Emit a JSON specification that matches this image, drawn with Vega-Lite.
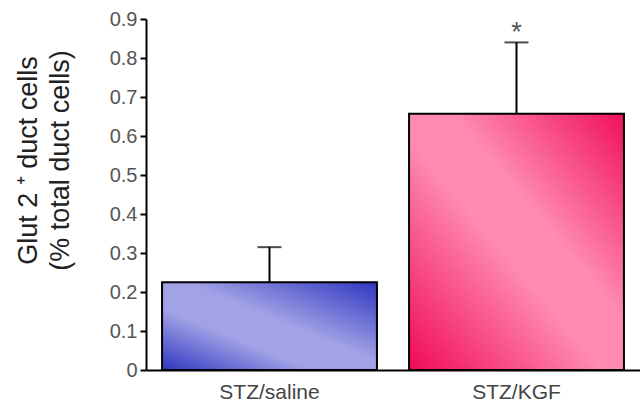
{
  "$schema": "https://vega.github.io/schema/vega-lite/v6.json",
  "autosize": {"type": "none"},
  "width": 494,
  "height": 351,
  "padding": {"left": 146, "top": 19, "right": 0, "bottom": 38},
  "background": "white",
  "config": {"view": {"stroke": null}},
  "data": {"values": [
    {"group": "STZ/saline", "value": 0.225, "upper": 0.315, "sig": ""},
    {"group": "STZ/KGF", "value": 0.657, "upper": 0.84, "sig": "*"}
  ]},
  "encoding": {
    "x": {
      "field": "group", "type": "nominal", "sort": null,
      "scale": {"paddingInner": 0.13, "paddingOuter": 0.065},
      "axis": {
        "title": null, "labelAngle": 0, "ticks": false, "domainColor": "black", "domainWidth": 2,
        "labelFont": "Liberation Sans", "labelFontSize": 21, "labelColor": "#444", "labelPadding": 11
      }
    },
    "y": {"field": "value", "type": "quantitative",
      "scale": {"domain": [0, 0.9], "nice": false},
      "axis": {
        "title": ["Glut 2 ⁺ duct cells", "(% total duct cells)"],
        "titleFont": "Liberation Sans", "titleFontSize": 27, "titleFontWeight": "normal", "titleColor": "#222",
        "titlePadding": 35, "titleLineHeight": 32, "titleY": 141,
        "values": [0, 0.1, 0.2, 0.3, 0.4, 0.5, 0.6, 0.7, 0.8, 0.9],
        "labelOverlap": false,
        "labelExpr": "datum.value == 0 ? '0' : format(datum.value, '.1f')",
        "labelFont": "Liberation Sans", "labelFontSize": 20, "labelColor": "#555",
        "grid": false, "tickColor": "black", "tickWidth": 2, "tickSize": 6,
        "domainColor": "black", "domainWidth": 2, "labelPadding": 3
      }
    }
  },
  "layer": [
    {
      "transform": [{"filter": "datum.group == 'STZ/saline'"}],
      "mark": {"type": "bar", "stroke": "black", "strokeWidth": 2,
        "color": {"gradient": "linear", "x1": 0, "y1": 1, "x2": 1, "y2": 0,
          "stops": [{"offset": 0, "color": "#2e36c0"}, {"offset": 0.35, "color": "#a2a2e6"}, {"offset": 0.55, "color": "#a2a2e6"}, {"offset": 1, "color": "#2e36c0"}]}}
    },
    {
      "transform": [{"filter": "datum.group == 'STZ/KGF'"}],
      "mark": {"type": "bar", "stroke": "black", "strokeWidth": 2,
        "color": {"gradient": "linear", "x1": 0, "y1": 1, "x2": 1, "y2": 0,
          "stops": [{"offset": 0, "color": "#f00a55"}, {"offset": 0.45, "color": "#ff8ab4"}, {"offset": 0.6, "color": "#ff8ab4"}, {"offset": 1, "color": "#f01058"}]}}
    },
    {
      "mark": {"type": "rule", "color": "black", "strokeWidth": 2},
      "encoding": {"y2": {"field": "upper"}}
    },
    {
      "mark": {"type": "tick", "color": "black", "thickness": 2, "size": 24},
      "encoding": {"y": {"field": "upper", "type": "quantitative"}}
    },
    {
      "mark": {"type": "text", "font": "Liberation Sans", "fontSize": 27, "color": "#555", "dy": -9, "baseline": "middle"},
      "encoding": {"y": {"field": "upper", "type": "quantitative"}, "text": {"field": "sig"}}
    }
  ]
}
